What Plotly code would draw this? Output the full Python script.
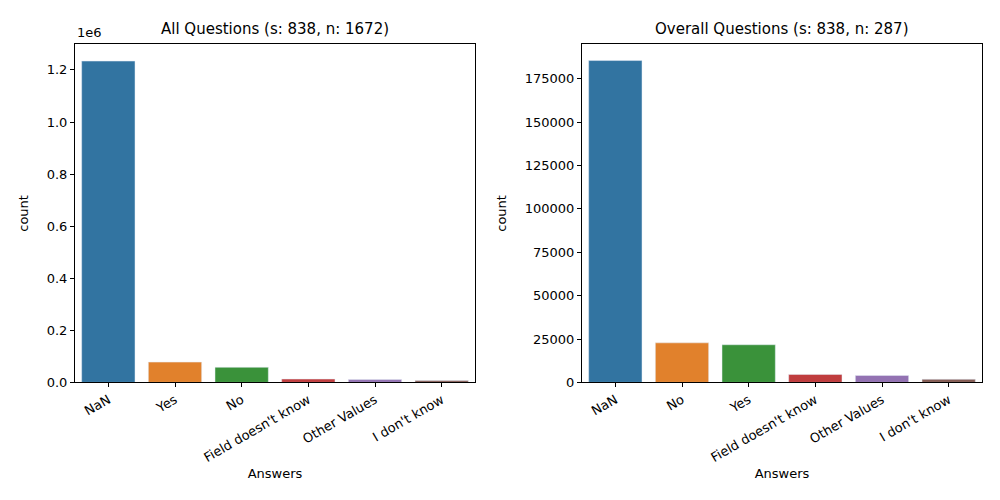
import plotly.graph_objects as go

colors = ["#3274a1", "#e1812c", "#3a923a", "#c03d3e", "#9372b2", "#845b53"]

left_answers = ["NaN", "Yes", "No", "Field doesn't know", "Other Values", "I don't know"]
left_counts = [1234000, 78000, 58000, 13000, 11000, 7000]

right_answers = ["NaN", "No", "Yes", "Field doesn't know", "Other Values", "I don't know"]
right_counts = [185500, 22800, 21700, 4600, 4000, 1800]

left_ticks = [0, 200000, 400000, 600000, 800000, 1000000, 1200000]
left_ticktext = ["0.0", "0.2", "0.4", "0.6", "0.8", "1.0", "1.2"]
right_ticks = [0, 25000, 50000, 75000, 100000, 125000, 150000, 175000]

fig = go.Figure()
fig.add_trace(go.Bar(x=left_answers, y=left_counts, marker_color=colors, width=0.8,
                     xaxis="x", yaxis="y", showlegend=False))
fig.add_trace(go.Bar(x=right_answers, y=right_counts, marker_color=colors, width=0.8,
                     xaxis="x2", yaxis="y2", showlegend=False))

ax = dict(showline=True, mirror=True, linecolor="black", linewidth=1, showgrid=False,
          ticks="outside", ticklen=4, tickcolor="black", zeroline=False,
          tickfont=dict(size=13, color="black"))
fig.update_layout(
    width=1000, height=500, margin=dict(l=0, r=0, t=0, b=0),
    plot_bgcolor="white", paper_bgcolor="white",
    font=dict(family="DejaVu Sans", color="black"),
    xaxis=dict(ax, domain=[0.067, 0.467], anchor="y", tickangle=-30, range=[-0.5, 5.5],
               title=dict(text="Answers", font=dict(size=13), standoff=4)),
    yaxis=dict(ax, domain=[0.239, 0.926], anchor="x", range=[0, 1298000],
               tickvals=left_ticks, ticktext=left_ticktext,
               title=dict(text="count", font=dict(size=13))),
    xaxis2=dict(ax, domain=[0.574, 0.974], anchor="y2", tickangle=-30, range=[-0.5, 5.5],
                title=dict(text="Answers", font=dict(size=13), standoff=4)),
    yaxis2=dict(ax, domain=[0.239, 0.926], anchor="x2", range=[0, 194800],
                tickvals=right_ticks, ticktext=[str(t) for t in right_ticks],
                title=dict(text="count", font=dict(size=13))),
    annotations=[
        dict(text="All Questions (s: 838, n: 1672)", x=0.267, y=0.935, xref="paper", yref="paper",
             xanchor="center", yanchor="bottom", showarrow=False, font=dict(size=15)),
        dict(text="Overall Questions (s: 838, n: 287)", x=0.774, y=0.935, xref="paper", yref="paper",
             xanchor="center", yanchor="bottom", showarrow=False, font=dict(size=15)),
        dict(text="1e6", x=0.067, y=0.93, xref="paper", yref="paper",
             xanchor="left", yanchor="bottom", showarrow=False, font=dict(size=13)),
    ],
)
fig.write_html("out.html")
